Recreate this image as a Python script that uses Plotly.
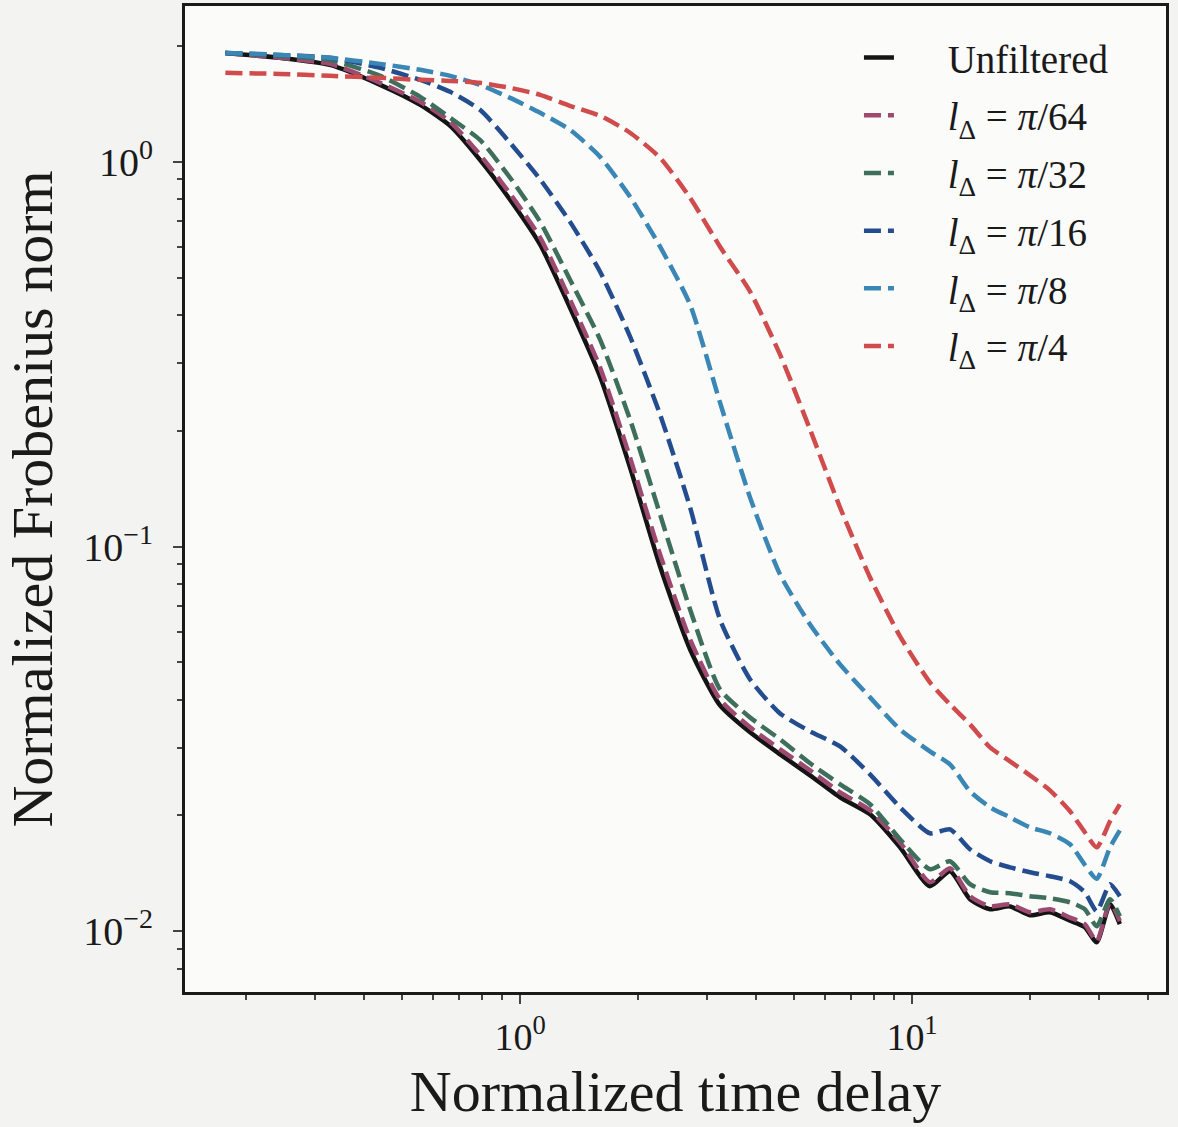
import plotly.graph_objects as go

# Normalized time delay (shared by all curves)
delay = [0.177, 0.244, 0.327, 0.4395, 0.556, 0.663, 0.790, 0.943, 1.125, 1.341,
         1.60, 1.908, 2.276, 2.715, 3.237, 3.862, 4.606, 5.494, 6.552, 7.814,
         9.32, 11.11, 12.5, 14.06, 15.82, 17.78, 20.0, 22.49, 25.3, 27.6,
         29.6, 32.0, 33.9]

unfiltered = [1.919, 1.863, 1.786, 1.585, 1.406, 1.240, 1.012, 0.797, 0.609, 0.4175,
              0.2764, 0.1604, 0.0887, 0.0540, 0.03864, 0.03288, 0.02883, 0.02542, 0.02229, 0.02013,
              0.01652, 0.01309, 0.01432, 0.01211, 0.01141, 0.01160, 0.01100, 0.01120, 0.01065, 0.01024,
              0.00936, 0.01175, 0.01043]

pi64 = [1.919, 1.863, 1.797, 1.604, 1.432, 1.270, 1.043, 0.826, 0.635, 0.438,
        0.2917, 0.1702, 0.0953, 0.0573, 0.04005, 0.03388, 0.02970, 0.02619, 0.02296, 0.02062,
        0.01702, 0.01341, 0.01458, 0.01233, 0.01161, 0.01175, 0.01120, 0.01140, 0.01085, 0.01043,
        0.00942, 0.01189, 0.01062]

pi32 = [1.919, 1.885, 1.840, 1.673, 1.475, 1.301, 1.140, 0.909, 0.698, 0.4937,
        0.3449, 0.2138, 0.1211, 0.0686, 0.04252, 0.03595, 0.03152, 0.02732, 0.02409, 0.02138,
        0.01734, 0.01449, 0.01520, 0.01325, 0.01263, 0.01255, 0.01233, 0.01218, 0.01189, 0.01141,
        0.01030, 0.01211, 0.01094]

pi16 = [1.919, 1.896, 1.863, 1.755, 1.633, 1.520, 1.365, 1.120, 0.900, 0.698,
        0.5179, 0.3511, 0.2203, 0.1263, 0.0646, 0.04513, 0.03683, 0.03308, 0.03023, 0.02557,
        0.02100, 0.01797, 0.01840, 0.01633, 0.01520, 0.01466, 0.01423, 0.01390, 0.01349, 0.01263,
        0.01127, 0.01325, 0.01233]

pi8 = [1.919, 1.896, 1.863, 1.797, 1.734, 1.673, 1.585, 1.466, 1.341, 1.211,
       1.030, 0.811, 0.6015, 0.4251, 0.2366, 0.1340, 0.0846, 0.0627, 0.04937, 0.04053,
       0.03347, 0.02934, 0.02715, 0.02310, 0.02100, 0.01977, 0.01862, 0.01797, 0.01683, 0.01488,
       0.01369, 0.01652, 0.01828]

pi4 = [1.703, 1.692, 1.673, 1.653, 1.633, 1.623, 1.604, 1.557, 1.493, 1.398,
       1.317, 1.190, 1.024, 0.806, 0.6015, 0.4597, 0.3152, 0.2013, 0.1263, 0.0831,
       0.0584, 0.04433, 0.03888, 0.03449, 0.03005, 0.02764, 0.02542, 0.02324, 0.02050, 0.01808,
       0.01652, 0.01931, 0.02138]

series = [
    ("Unfiltered", unfiltered, "#141414", "solid"),
    ("<i>l</i><sub>Δ</sub> = <i>π</i>/64", pi64, "#9c4a70", "17px,7px"),
    ("<i>l</i><sub>Δ</sub> = <i>π</i>/32", pi32, "#3e6e5c", "17px,7px"),
    ("<i>l</i><sub>Δ</sub> = <i>π</i>/16", pi16, "#244d8f", "17px,7px"),
    ("<i>l</i><sub>Δ</sub> = <i>π</i>/8", pi8, "#3a86b4", "17px,7px"),
    ("<i>l</i><sub>Δ</sub> = <i>π</i>/4", pi4, "#d04b4b", "17px,7px"),
]

FONT = "Liberation Serif"
PAD = "\u00a0" * 5

fig = go.Figure()
for i, (name, vals, color, dash) in enumerate(series):
    fig.add_trace(go.Scatter(
        x=delay, y=vals, mode="lines", name=PAD + name, legendgroup=f"g{i}",
        line=dict(color=color, width=4.5, dash=dash, shape="spline", smoothing=0.6),
    ))

x_minor = [0.2, 0.3, 0.4, 0.5, 0.6, 0.7, 0.8, 0.9, 2, 3, 4, 5, 6, 7, 8, 9, 20, 30, 40]
y_minor = [0.008, 0.009, 0.02, 0.03, 0.04, 0.05, 0.06, 0.07, 0.08, 0.09,
           0.2, 0.3, 0.4, 0.5, 0.6, 0.7, 0.8, 0.9, 2]

fig.update_layout(
    width=1178, height=1127,
    margin=dict(l=185, r=12, t=6, b=135),
    paper_bgcolor="#f3f3f1", plot_bgcolor="#fbfbfa",
    font=dict(family=FONT, color="#1a1a1a"),
    showlegend=True,
    legend=dict(x=0.687, y=0.98, xanchor="left", yanchor="top",
                bgcolor="rgba(0,0,0,0)", font=dict(size=39, family=FONT),
                tracegroupgap=4),
    xaxis=dict(type="log", range=[-0.855, 1.648], automargin=False,
               tickvals=[1, 10], ticktext=["10<sup>0</sup>", "10<sup>1</sup>"],
               tickfont=dict(size=38), ticks="outside", ticklen=9, tickwidth=2,
               showline=True, linecolor="#1a1a1a", linewidth=3, mirror=True,
               showgrid=False, zeroline=False,
               minor=dict(tickvals=x_minor, ticks="outside", ticklen=5, tickwidth=1.5, showgrid=False),
               title=dict(text="Normalized time delay", font=dict(size=58), standoff=14)),
    yaxis=dict(type="log", range=[-2.158, 0.405], automargin=False,
               tickvals=[0.01, 0.1, 1], ticktext=["10<sup>−2</sup>", "10<sup>−1</sup>", "10<sup>0</sup>"],
               tickfont=dict(size=40), ticks="outside", ticklen=9, tickwidth=2,
               ticklabelstandoff=12,
               showline=True, linecolor="#1a1a1a", linewidth=3, mirror=True,
               showgrid=False, zeroline=False,
               minor=dict(tickvals=y_minor, ticks="outside", ticklen=5, tickwidth=1.5, showgrid=False),
               title=dict(text="Normalized Frobenius norm", font=dict(size=58), standoff=14)),
)

fig.write_html("out.html", config={"displayModeBar": False},
               post_script="document.body.style.margin='0px';")
